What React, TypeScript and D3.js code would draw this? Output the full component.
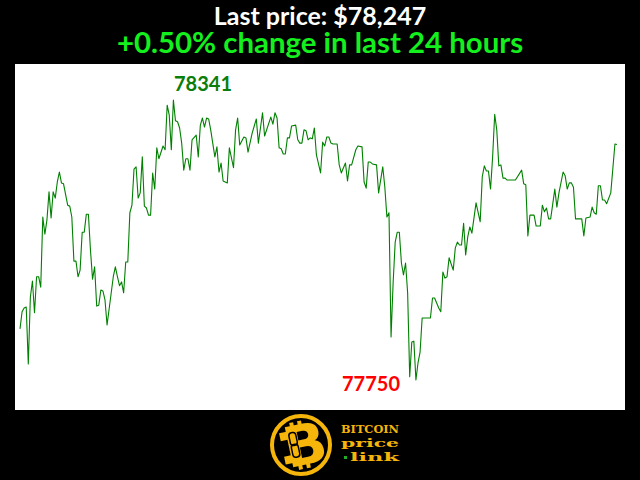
import React from "react";
import * as d3 from "d3";

// 5 minute sample number inside the last 24 hours
const samples = [
  0, 1, 2, 3, 4, 5, 6, 7, 8, 9, 10, 11, 12, 13, 14, 15, 16, 17, 18, 19, 20, 21, 23, 24, 25, 26, 27, 28, 29, 30,
  31, 32, 33, 34, 35, 36, 37, 38, 39, 40, 41, 42, 45, 46, 47, 48, 49, 50, 51, 52, 53, 54, 55, 56, 57, 58, 59, 60,
  61, 62, 63, 64, 65, 66, 67, 69, 70, 71, 72, 73, 74, 75, 76, 77, 78, 79, 80, 81, 82, 83, 85, 86, 87, 88, 89, 90,
  91, 92, 94, 95, 96, 97, 98, 99, 100, 101, 103, 104, 105, 106, 108, 109, 110, 112, 114, 115, 117, 118, 121, 122,
  123, 124, 125, 126, 127, 128, 129, 130, 131, 133, 134, 135, 136, 137, 138, 139, 140, 141, 142, 143, 145, 146,
  147, 148, 149, 150, 151, 153, 154, 155, 157, 158, 159, 160, 162, 163, 165, 166, 167, 168, 169, 170, 172, 173,
  175, 176, 177, 178, 179, 180, 181, 182, 183, 184, 185, 186, 187, 188, 189, 190, 191, 192, 193, 194, 198, 199,
  200, 202, 203, 204, 205, 206, 207, 209, 210, 211, 212, 213, 214, 215, 216, 217, 218, 220, 222, 223, 224, 225,
  226, 227, 228, 229, 230, 231, 232, 233, 234, 235, 239, 242, 243, 244, 245, 246, 248, 249, 251, 252, 253, 254,
  255, 256, 258, 259, 260, 262, 263, 264, 265, 266, 267, 268, 271, 272, 273, 275, 276, 277, 278, 279, 280, 281,
  282, 283, 285, 287, 288,
];

const prices = [
  77858, 77894, 77902, 77904, 77784, 77925, 77959, 77892, 77968, 77968, 77946, 78094, 78058, 78088, 78147, 78092,
  78147, 78134, 78168, 78189, 78166, 78164, 78119, 78117, 78094, 78001, 78001, 77968, 77982, 78062,
  78062, 78100, 78100, 78024, 77963, 77989, 77906, 77908, 77940, 77938, 77919, 77866, 77968, 77989, 77968, 77949,
  77957, 77934, 77999, 77999, 78103, 78119, 78195, 78200, 78134, 78145, 78221, 78117,
  78113, 78098, 78098, 78187, 78153, 78240, 78217, 78244, 78236, 78330, 78309, 78236, 78341, 78297, 78295, 78282,
  78250, 78193, 78217, 78217, 78193, 78257, 78267, 78221, 78288, 78303, 78284, 78303,
  78301, 78278, 78221, 78242, 78189, 78208, 78170, 78168, 78166, 78240, 78198, 78278, 78303, 78246, 78263, 78261,
  78231, 78271, 78301, 78250, 78314, 78265, 78305, 78290,
  78314, 78303, 78240, 78238, 78227, 78227, 78261, 78261, 78286, 78288, 78257, 78250, 78250, 78278, 78276, 78257,
  78261, 78259, 78282, 78225, 78187, 78252,
  78244, 78263, 78263, 78250, 78248, 78248, 78204, 78187, 78208, 78170, 78204, 78204, 78236, 78244, 78242, 78168,
  78155, 78210, 78210, 78206, 78204, 78145,
  78200, 78157, 78094, 78103, 77841, 77955, 78041, 78062, 78062, 77997, 77972, 77997, 77934, 77757, 77830, 77832,
  77750, 77786, 77809, 77881, 77881, 77923,
  77923, 77902, 77894, 77978, 77965, 77968, 78008, 77982, 78029, 78041, 78035, 78035, 78081, 78014, 78052, 78073,
  78060, 78124, 78084, 78179, 78202, 78191,
  78191, 78153, 78221, 78311, 78278, 78202, 78204, 78176, 78176, 78172, 78172, 78193, 78164, 78162, 78054, 78098,
  78098, 78075, 78075, 78119, 78105, 78113,
  78090, 78090, 78153, 78115, 78145, 78189, 78181, 78153, 78166, 78166, 78157, 78090, 78090, 78054, 78092, 78094,
  78115, 78103, 78100, 78160, 78160, 78130,
  78130, 78122, 78145, 78248, 78247,
];

const titleText = "Last price: $78,247";
const changeText = "+0.50% change in last 24 hours";
const highLabel = "78341";
const lowLabel = "77750";
const logoWords = ["BITCOIN", "price", "link"];

const width = 640;
const height = 480;
const gold = "#f5b50a";

const x = d3.scaleLinear().domain([0, 288]).range([20, 617]);
const y = d3.scaleLinear().domain([77750, 78341]).range([380, 100]);

const line = d3
  .line<number>()
  .x((_, i) => x(samples[i]))
  .y((d) => y(d));

const App = () => {
  return (
    <svg
      width={width}
      height={height}
      viewBox={`0 0 ${width} ${height}`}
      style={{ position: "fixed", left: 0, top: 0, background: "#000" }}
      fontFamily="Lato, sans-serif"
    >
      <text x={320} y={25} textAnchor="middle" fill="#fff" fontSize={25} fontWeight={700}>
        {titleText}
      </text>
      <text x={320} y={53} textAnchor="middle" fill="#14f01e" fontSize={29.4} fontWeight={700}>
        {changeText}
      </text>

      <rect x={15} y={64} width={610} height={346} fill="#fff" />
      <path d={line(prices) ?? ""} fill="none" stroke="#008000" strokeWidth={1.1} strokeLinejoin="round" />
      <text x={203} y={91} textAnchor="middle" fill="#0a7d0a" fontSize={20} fontWeight={700}>
        {highLabel}
      </text>
      <text x={371} y={391} textAnchor="middle" fill="#ff0000" fontSize={20} fontWeight={700}>
        {lowLabel}
      </text>

      {/* logo */}
      <circle cx={301} cy={445} r={29} fill="none" stroke={gold} strokeWidth={4} />
      <g transform="rotate(-12 301 445)">
        <text
          x={305}
          y={465}
          textAnchor="middle"
          fill={gold}
          fontFamily="'DejaVu Sans', sans-serif"
          fontSize={56}
          fontWeight={700}
        >
          B
        </text>
        <rect x={282} y={429} width={14} height={8} fill={gold} />
        <rect x={282} y={453} width={14} height={8} fill={gold} />
        <rect x={294} y={421} width={4} height={8} fill={gold} />
        <rect x={302} y={421} width={4} height={8} fill={gold} />
        <rect x={294} y={461} width={4} height={8} fill={gold} />
        <rect x={302} y={461} width={4} height={8} fill={gold} />
        <rect x={291} y={431} width={7} height={13} rx={3} fill="none" stroke="#000" strokeWidth={1.5} />
        <rect x={291} y={443} width={7} height={13} rx={3} fill="none" stroke="#000" strokeWidth={1.5} />
      </g>
      <g fill={gold} fontFamily="'DejaVu Serif', serif" fontWeight={700}>
        <text x={341} y={433} fontSize={11} textLength={58} lengthAdjust="spacingAndGlyphs">
          {logoWords[0]}
        </text>
        <text x={341} y={447} fontSize={11} textLength={58} lengthAdjust="spacingAndGlyphs">
          {logoWords[1]}
        </text>
        <text x={350} y={461} fontSize={11} textLength={49} lengthAdjust="spacingAndGlyphs">
          {logoWords[2]}
        </text>
      </g>
      <rect x={344} y={456} width={3} height={3} fill="#1fae2a" />
    </svg>
  );
};

export default App;
